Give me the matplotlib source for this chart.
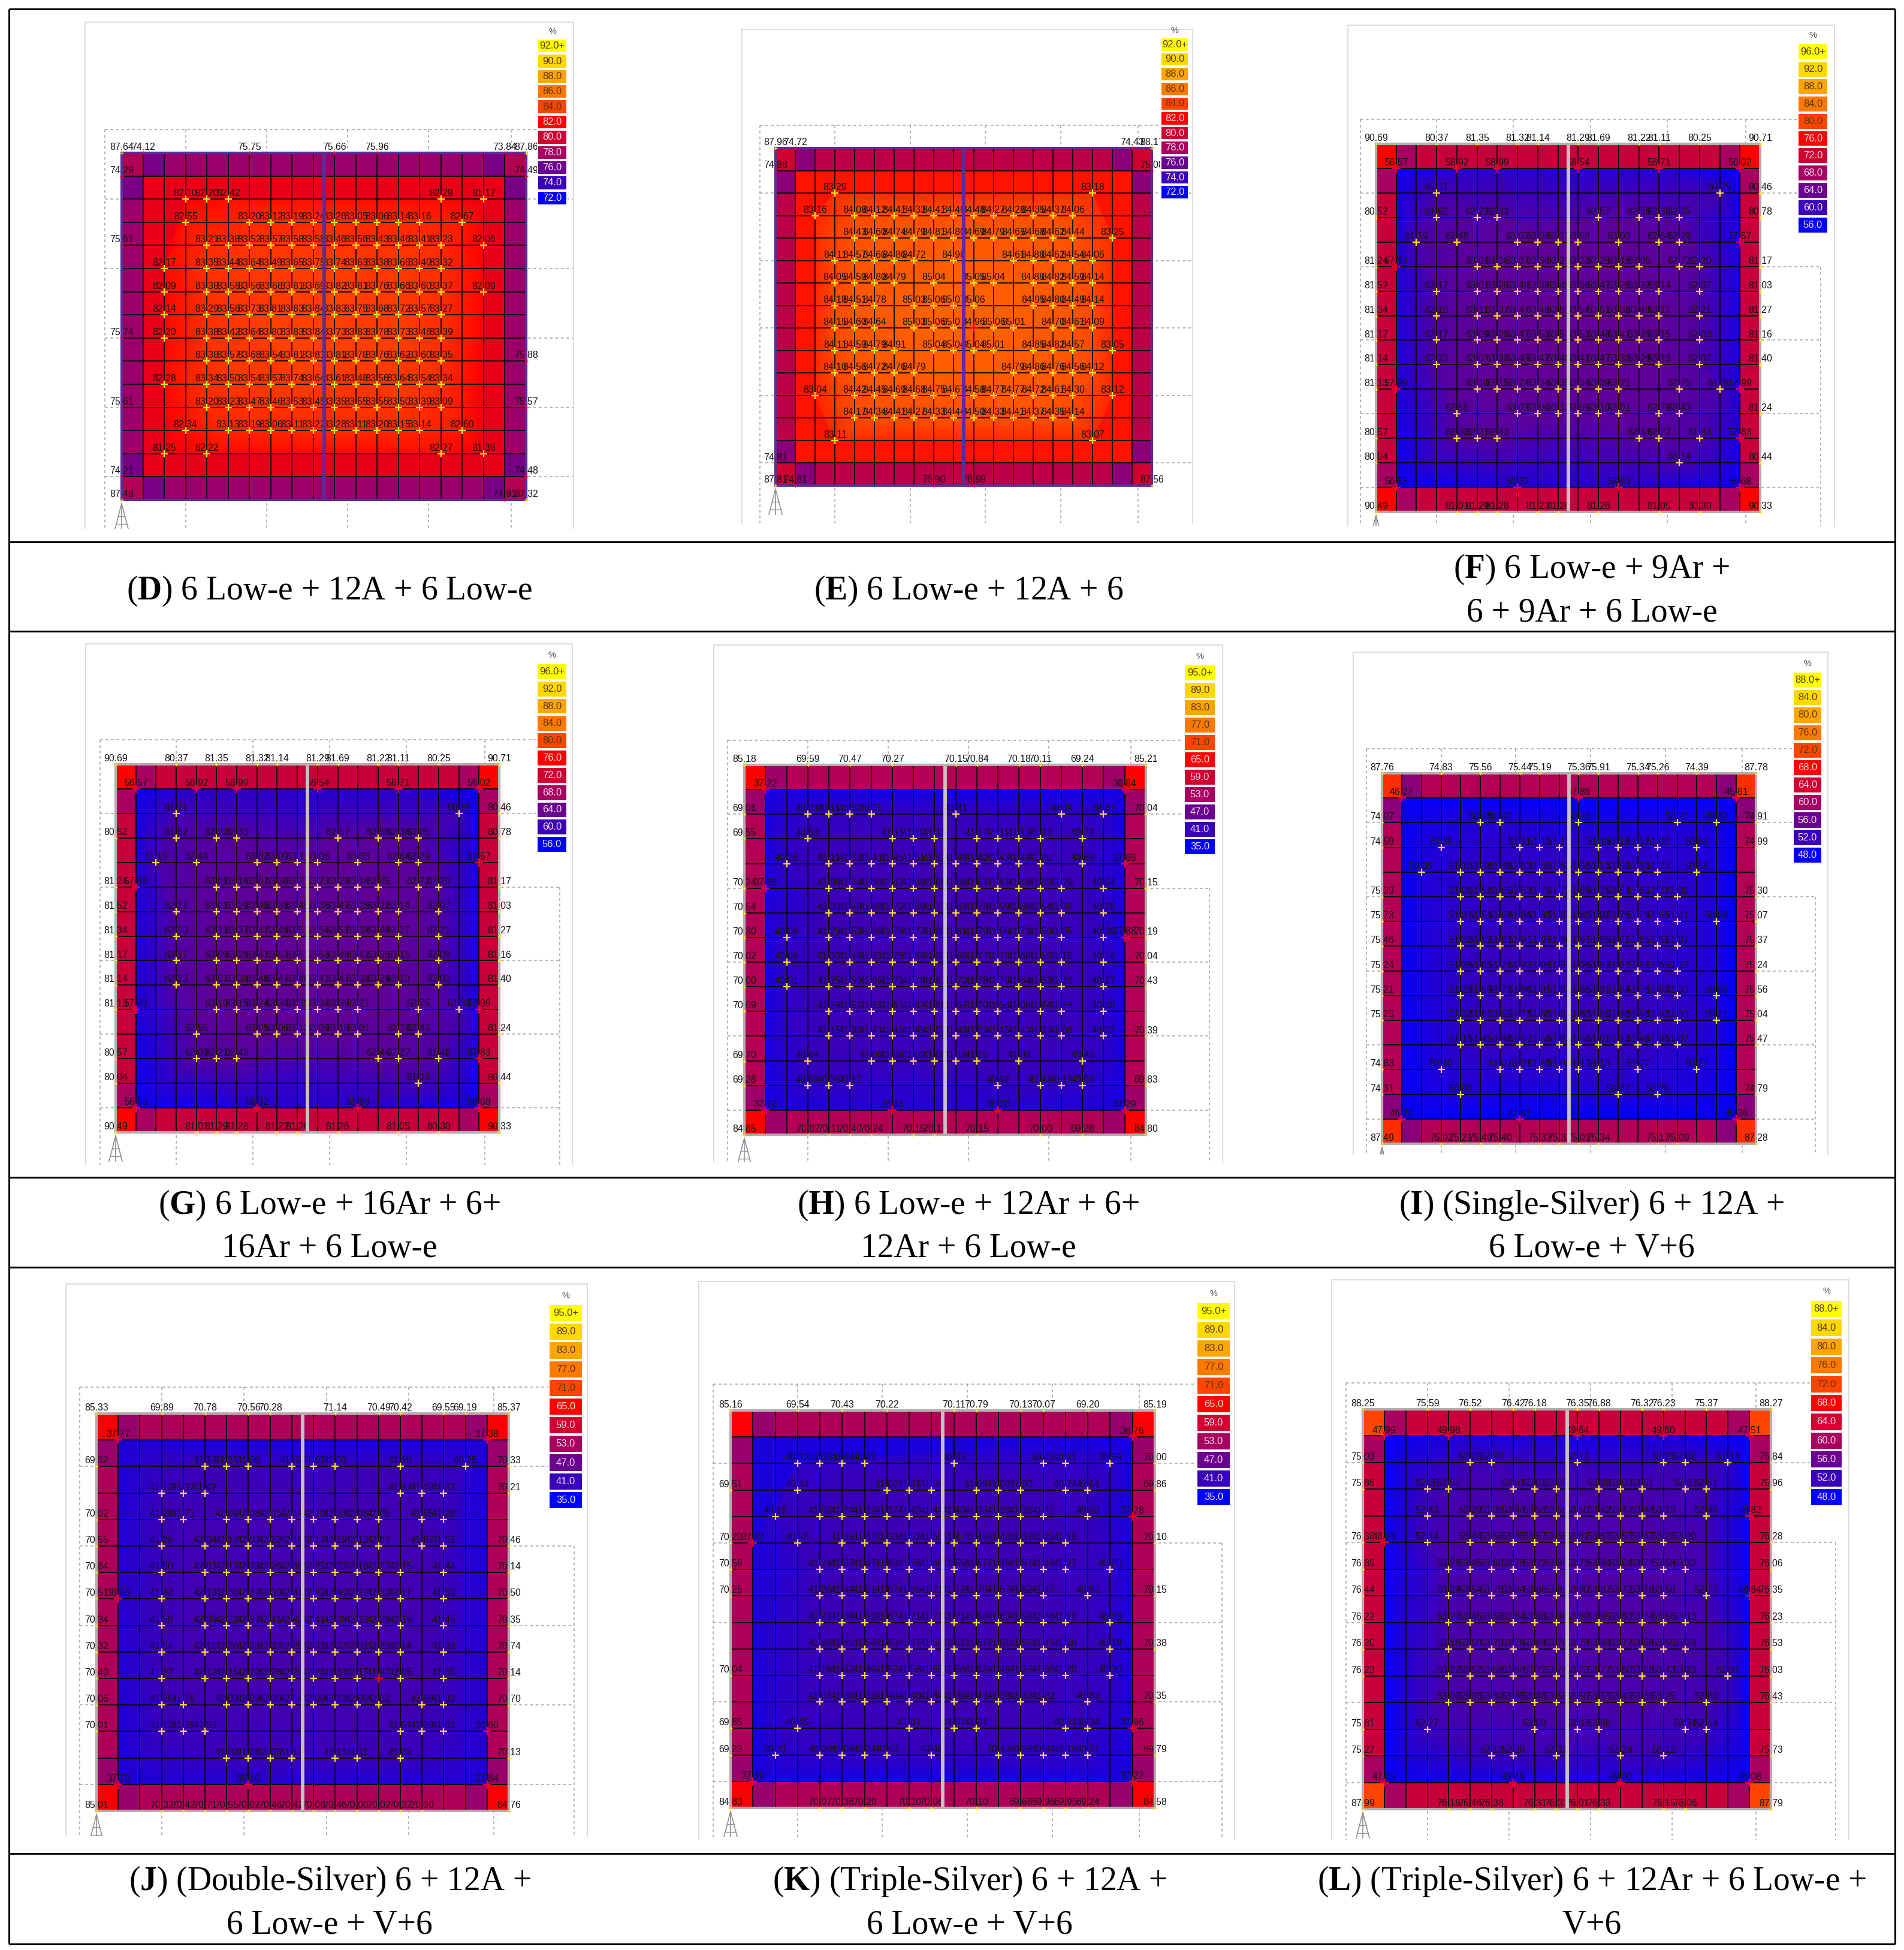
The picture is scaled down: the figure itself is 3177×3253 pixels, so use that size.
import matplotlib
matplotlib.use("Agg")
import matplotlib.pyplot as plt
from matplotlib.colors import LinearSegmentedColormap, Normalize

plt.rcParams['font.family'] = ['Liberation Sans', 'DejaVu Sans']
plt.rcParams['mathtext.fontset'] = 'custom'
plt.rcParams['mathtext.bf'] = 'Liberation Serif:bold'
plt.rcParams['mathtext.rm'] = 'Liberation Serif'

# legend levels of each simulation
SCALE_D = [72, 74, 76, 78, 80, 82, 84, 86, 88, 90, 92]
SCALE_F = [56, 60, 64, 68, 72, 76, 80, 84, 88, 92, 96]
SCALE_H = [35, 41, 47, 53, 59, 65, 71, 77, 83, 89, 95]
SCALE_I = [48, 52, 56, 60, 64, 68, 72, 76, 80, 84, 88]
LEVEL_COLORS = ['#0000ff', '#3a00b8', '#6a0090', '#a80060', '#d00030', '#ff0000',
                '#ff4500', '#ff7800', '#ffa500', '#ffd700', '#ffff00']

# shading of the outer cells: corner, next to corner, edge, first inner ring
D_bands = [78.5, 76.5, 77.6, 81]
E_bands = [80, 77, 79, 82.5]
F_bands = [76, 68, 71, 58.5]
G_bands = [76, 68, 71, 58.5]
H_bands = [65, 52, 54.5, 38]
I_bands = [70.5, 58, 61, 48.5]
J_bands = [64.5, 51.5, 54, 38.5]
K_bands = [64.5, 51.5, 54, 38]
L_bands = [72, 60, 63, 49.5]

# readings per grid row: {row: (columns, values)}
D_labels = {
    0: ([0,1,6,10,12,18,19], [87.64,74.12,75.75,75.66,75.96,73.84,87.86]),
    1: ([0,19], [74.29,74.49]),
    2: ([3,4,5,15,17], [82.10,82.20,82.42,82.29,81.17]),
    3: ([3,6,7,8,9,10,11,12,13,14,16], [82.55,83.20,83.12,83.19,83.24,83.26,83.05,83.06,83.14,83.16,82.67]),
    4: ([0,4,5,6,7,8,9,10,11,12,13,14,15,17], [75.61,83.21,83.38,83.52,83.57,83.58,83.58,83.46,83.56,83.43,83.46,83.41,83.23,82.06]),
    5: ([2,4,5,6,7,8,9,10,11,12,13,14,15], [82.17,83.35,83.44,83.64,83.49,83.65,83.75,83.74,83.63,83.38,83.66,83.40,83.32]),
    6: ([2,4,5,6,7,8,9,10,11,12,13,14,15,17], [82.09,83.38,83.58,83.56,83.68,83.81,83.69,83.82,83.81,83.76,83.66,83.60,83.37,82.09]),
    7: ([2,4,5,6,7,8,9,10,11,12,13,14,15], [82.14,83.29,83.56,83.73,83.81,83.83,83.84,83.83,83.75,83.68,83.72,83.57,83.27]),
    8: ([0,2,4,5,6,7,8,9,10,11,12,13,14,15], [75.74,82.20,83.38,83.42,83.64,83.80,83.83,83.84,83.73,83.83,83.78,83.73,83.48,83.39]),
    9: ([4,5,6,7,8,9,10,11,12,13,14,15,19], [83.38,83.57,83.68,83.54,83.81,83.81,83.81,83.78,83.76,83.62,83.60,83.35,75.88]),
    10: ([2,4,5,6,7,8,9,10,11,12,13,14,15], [82.28,83.34,83.50,83.54,83.57,83.74,83.64,83.61,83.48,83.56,83.64,83.54,83.34]),
    11: ([0,4,5,6,7,8,9,10,11,12,13,14,15,19], [75.61,83.20,83.23,83.47,83.46,83.53,83.45,83.35,83.55,83.55,83.50,83.39,83.09,75.57]),
    12: ([3,5,6,7,8,9,10,11,12,13,14,16], [82.34,83.13,83.19,83.06,83.11,83.22,83.28,83.11,83.20,83.15,83.14,82.60]),
    13: ([2,4,15,17], [81.25,82.22,82.27,81.36]),
    14: ([0,19], [74.21,74.48]),
    15: ([0,18,19], [87.48,74.91,87.32]),
}
E_labels = {
    0: ([0,1,18,19], [87.96,74.72,74.43,88.17]),
    1: ([0,19], [74.88,75.08]),
    2: ([3,16], [83.29,83.18]),
    3: ([2,4,5,6,7,8,9,10,11,12,13,14,15], [83.16,84.08,84.12,84.41,84.33,84.41,84.46,84.48,84.27,84.28,84.35,84.37,84.06]),
    4: ([4,5,6,7,8,9,10,11,12,13,14,15,17], [84.43,84.60,84.74,84.79,84.81,84.80,84.69,84.79,84.65,84.68,84.62,84.44,83.25]),
    5: ([3,4,5,6,7,9,12,13,14,15,16], [84.11,84.57,84.66,84.86,84.72,84.98,84.61,84.88,84.62,84.54,84.06]),
    6: ([3,4,5,6,8,10,11,13,14,15,16], [84.05,84.59,84.80,84.79,85.04,85.05,85.04,84.88,84.82,84.59,84.14]),
    7: ([3,4,5,7,8,9,10,13,14,15,16], [84.18,84.51,84.78,85.03,85.06,85.07,85.06,84.95,84.80,84.49,84.14]),
    8: ([3,4,5,7,8,9,10,11,12,14,15,16], [84.15,84.60,84.64,85.03,85.06,85.07,84.96,85.06,85.01,84.70,84.61,84.09]),
    9: ([3,4,5,6,8,9,10,11,13,14,15,17], [84.11,84.59,84.79,84.91,85.04,85.04,85.04,85.01,84.85,84.82,84.57,83.05]),
    10: ([3,4,5,6,7,12,13,14,15,16], [84.10,84.56,84.72,84.76,84.79,84.79,84.86,84.76,84.56,84.12]),
    11: ([2,4,5,6,7,8,9,10,11,12,13,14,15,17], [83.04,84.42,84.45,84.69,84.68,84.75,84.67,84.58,84.77,84.77,84.72,84.61,84.30,83.12]),
    12: ([4,5,6,7,8,9,10,11,12,13,14,15], [84.17,84.34,84.41,84.27,84.33,84.44,84.50,84.33,84.41,84.37,84.35,84.14]),
    13: ([3,16], [83.11,83.07]),
    14: ([0], [74.81]),
    15: ([0,1,8,10,19], [87.81,74.81,76.90,76.89,87.56]),
}
F_labels = {
    0: ([0,3,5,7,8,10,11,13,14,16,19], [90.69,80.37,81.35,81.32,81.14,81.29,81.69,81.22,81.11,80.25,90.71]),
    1: ([1,4,6,10,14,18], [56.57,58.92,58.99,58.54,58.71,56.02]),
    2: ([3,17,19], [61.11,60.29,80.46]),
    3: ([0,3,5,6,11,13,14,15,19], [80.52,61.62,62.22,62.33,62.57,62.58,62.38,62.05,80.78]),
    4: ([2,4,7,8,9,10,12,14,15,18], [61.19,62.48,63.02,63.09,63.11,63.08,63.03,62.64,62.29,57.57]),
    5: ([0,1,5,6,7,8,9,10,11,12,13,15,16,19], [81.24,57.88,63.01,63.16,63.07,63.30,63.27,63.23,63.25,63.16,63.05,62.72,62.20,81.17]),
    6: ([0,3,5,6,7,8,9,10,11,12,13,14,16,19], [81.52,62.17,63.01,63.20,63.40,63.38,63.45,63.36,63.47,63.26,63.32,63.14,62.07,81.03]),
    7: ([0,3,5,6,7,8,9,10,11,12,13,14,16,19], [81.34,62.10,63.11,63.37,63.47,63.49,63.51,63.54,63.51,63.38,63.40,63.17,62.21,81.27]),
    8: ([0,3,5,6,7,8,9,10,11,12,13,14,16,19], [81.17,62.17,63.09,63.28,63.47,63.53,63.51,63.53,63.48,63.42,63.35,63.15,62.09,81.16]),
    9: ([0,3,5,6,7,8,9,10,11,12,13,14,16,19], [81.14,62.23,63.07,63.38,63.40,63.47,63.48,63.41,63.47,63.38,63.29,63.13,62.02,81.40]),
    10: ([0,1,5,6,7,8,9,10,11,12,15,17,18], [81.13,57.99,63.10,63.15,63.24,63.34,63.35,63.34,63.39,63.21,62.75,61.38,57.99]),
    11: ([4,7,8,9,10,11,12,14,15,19], [62.55,63.05,63.06,63.12,63.09,63.10,63.01,62.78,62.43,81.24]),
    12: ([0,4,5,6,13,14,16,18], [80.57,62.03,62.21,62.43,62.44,62.27,61.48,57.83]),
    13: ([0,15,19], [80.04,61.14,80.44]),
    14: ([1,7,12,18], [56.55,58.32,58.83,56.68]),
    15: ([0,4,5,6,8,9,11,14,16,19], [90.49,81.01,81.29,81.28,81.23,81.26,81.26,81.05,80.30,90.33]),
}
G_labels = F_labels
H_labels = {
    0: ([0,3,5,7,10,11,13,14,16,19], [85.18,69.59,70.47,70.27,70.15,70.84,70.18,70.11,69.24,85.21]),
    1: ([1,18], [37.22,36.84]),
    2: ([0,3,4,5,6,10,15,17,19], [69.01,40.21,40.11,40.52,40.55,40.41,40.09,39.87,70.04]),
    3: ([0,3,7,8,9,11,12,13,14,16], [69.55,40.53,41.11,41.10,41.13,41.17,41.11,41.12,41.03,40.72]),
    4: ([2,4,5,6,7,8,9,10,11,12,13,14,16,18], [40.26,41.11,41.33,41.41,41.45,41.51,41.52,41.49,41.42,41.47,41.48,41.20,40.69,37.86]),
    5: ([0,1,4,5,6,7,8,9,10,11,12,13,14,15,17,19], [70.24,37.85,41.06,41.44,41.56,41.42,41.69,41.68,41.66,41.67,41.61,41.48,41.39,41.26,40.04,70.15]),
    6: ([0,4,5,6,7,8,9,10,11,12,13,14,15,17], [70.54,41.32,41.48,41.68,41.72,41.69,41.77,41.64,41.78,41.59,41.66,41.54,41.35,40.28]),
    7: ([0,2,4,5,6,7,8,9,10,11,12,13,14,15,17,18,19], [70.30,40.08,41.29,41.52,41.69,41.76,41.77,41.80,41.81,41.79,41.66,41.71,41.56,41.05,40.08,37.88,70.19]),
    8: ([0,2,4,5,6,7,8,9,10,11,12,13,14,15,17,19], [70.02,40.06,41.30,41.49,41.61,41.78,41.69,41.80,41.80,41.77,41.72,41.68,41.55,41.18,40.16,70.04]),
    9: ([0,2,4,5,6,7,8,9,10,11,12,13,14,15,17,19], [70.00,40.01,41.25,41.59,41.65,41.71,41.78,41.67,41.70,41.78,41.79,41.64,41.63,41.29,40.27,70.43]),
    10: ([0,4,5,6,7,8,9,10,11,12,13,14,15,17], [70.09,41.29,41.51,41.65,41.61,41.67,41.68,41.67,41.70,41.56,41.08,41.44,41.29,40.09]),
    11: ([4,5,6,7,8,9,10,11,12,13,14,15,17,19], [41.15,41.39,41.41,41.48,41.49,41.52,41.48,41.52,41.45,41.41,41.31,41.08,40.02,70.39]),
    12: ([0,3,6,7,8,9,10,11,13,16], [69.70,40.64,41.08,41.08,41.09,41.05,41.16,41.15,41.08,40.43]),
    13: ([0,3,4,5,12,14,15,16,19], [69.28,40.08,40.29,40.17,40.62,40.43,40.19,40.09,69.83]),
    14: ([1,7,12,18], [37.18,38.33,38.70,37.29]),
    15: ([0,3,4,5,6,8,9,11,14,16,19], [84.85,70.02,70.11,70.40,70.24,70.15,70.11,70.15,70.00,69.28,84.80]),
}
I_labels = {
    0: ([0,3,5,7,8,10,11,13,14,16,19], [87.76,74.83,75.56,75.44,75.19,75.36,75.91,75.34,75.26,74.39,87.78]),
    1: ([1,10,18], [46.27,47.86,45.81]),
    2: ([0,5,6,10,15,17,19], [74.07,50.38,50.42,50.26,50.21,49.82,74.91]),
    3: ([0,3,7,8,9,11,12,13,14,16,19], [74.59,50.39,51.11,51.15,51.13,51.18,51.15,51.12,51.00,50.63,74.99]),
    4: ([2,4,5,6,7,8,9,10,11,12,13,14,16], [50.05,51.10,51.38,51.48,51.53,51.60,51.63,51.58,51.53,51.56,51.53,51.23,50.58]),
    5: ([0,4,5,6,7,8,9,10,11,12,13,14,15,19], [75.39,51.06,51.52,51.66,51.63,51.75,51.72,51.69,51.75,51.63,51.66,51.32,51.30,75.30]),
    6: ([0,4,5,6,7,8,9,10,11,12,13,14,15,17,19], [75.73,51.37,51.54,51.68,51.86,51.80,51.83,51.80,51.92,51.75,51.79,51.65,51.41,50.08,75.07]),
    7: ([0,4,5,6,7,8,9,10,11,12,13,14,15,19], [75.46,51.32,51.62,51.83,51.91,51.92,51.96,51.97,51.95,51.81,51.85,51.62,51.07,75.37]),
    8: ([0,4,5,6,7,8,9,10,11,12,13,14,15,19], [75.24,51.38,51.65,51.74,51.92,51.96,51.97,51.96,51.93,51.87,51.82,51.65,51.22,75.24]),
    9: ([0,4,5,6,7,8,9,10,11,12,13,14,15,17,19], [75.21,51.28,51.59,51.78,51.86,51.91,51.83,51.85,51.91,51.84,51.76,51.63,51.33,50.06,75.56]),
    10: ([0,4,5,6,7,8,9,10,11,12,13,14,15,17,19], [75.25,51.32,51.61,51.65,51.73,51.80,51.82,51.80,51.85,51.68,51.48,51.62,51.33,50.21,75.04]),
    11: ([4,5,6,7,8,9,10,11,12,13,14,15,19], [51.16,51.45,51.48,51.57,51.58,51.63,51.58,51.61,51.53,51.48,51.38,51.07,75.47]),
    12: ([0,3,6,7,8,9,10,11,13,16], [74.83,50.40,51.07,51.07,51.10,51.08,51.17,51.16,51.07,50.27]),
    13: ([0,4,12,14,19], [74.31,50.08,50.37,50.26,74.79]),
    14: ([1,7,18], [46.24,47.87,46.36]),
    15: ([0,3,4,5,6,8,9,10,11,14,15,19], [87.49,75.02,75.21,75.49,75.40,75.33,75.32,75.01,75.34,75.17,75.09,87.28]),
}
J_labels = {
    0: ([0,3,5,7,8,11,13,14,16,17,19], [85.33,69.89,70.78,70.56,70.28,71.14,70.49,70.42,69.55,69.19,85.37]),
    1: ([1,18], [37.77,37.38]),
    2: ([0,5,6,7,9,10,11,14,17,19], [69.32,41.12,41.15,41.06,41.02,41.01,41.03,41.10,40.25,70.33]),
    3: ([3,4,5,14,15,16,19], [41.12,41.37,41.49,41.63,41.42,41.32,70.21]),
    4: ([0,3,4,6,7,8,9,10,11,12,13,15,16], [70.02,41.28,41.71,42.01,42.08,42.11,42.14,42.10,42.03,42.08,42.05,41.55,41.28]),
    5: ([0,3,5,6,7,8,9,10,11,12,13,15,16,19], [70.55,41.26,42.04,42.17,42.03,42.22,42.19,42.17,42.19,42.12,42.07,41.87,41.52,70.46]),
    6: ([0,3,5,6,7,8,9,10,11,12,13,14,16,19], [70.84,41.50,42.07,42.17,42.33,42.26,42.36,42.25,42.37,42.19,42.27,42.15,41.44,70.14]),
    7: ([0,1,3,5,6,7,8,9,10,11,12,13,14,16,19], [70.51,38.96,41.42,42.13,42.30,42.37,42.39,42.41,42.42,42.40,42.27,42.32,42.17,41.53,70.50]),
    8: ([0,3,5,6,7,8,9,10,11,12,13,14,16,19], [70.34,41.50,42.08,42.22,42.37,42.41,42.42,42.41,42.38,42.33,42.29,42.15,41.45,70.35]),
    9: ([0,3,5,6,7,8,9,10,11,12,13,14,16,19], [70.32,41.54,42.11,42.26,42.33,42.37,42.28,42.31,42.37,42.31,42.25,42.14,41.38,70.74]),
    10: ([0,3,5,6,7,8,9,10,11,12,13,14,16,19], [70.40,41.37,42.12,42.15,42.22,42.28,42.29,42.28,42.32,42.17,41.97,42.05,41.35,70.14]),
    11: ([0,3,4,6,7,8,9,10,11,12,13,15,16,19], [70.06,41.25,41.76,42.02,42.09,42.09,42.14,42.09,42.12,42.06,42.02,41.68,41.32,70.70]),
    12: ([0,3,4,5,14,15,16,18], [70.01,41.13,41.39,41.53,41.57,41.29,41.02,38.60]),
    13: ([6,7,8,9,11,12,14,19], [41.02,41.08,41.08,41.17,41.13,41.11,41.02,70.13]),
    14: ([1,7,18], [37.73,38.90,37.84]),
    15: ([0,3,4,5,6,7,8,9,10,11,12,13,14,15,19], [85.01,70.32,70.42,70.71,70.55,70.02,70.46,70.42,70.08,70.46,70.00,70.02,70.32,70.30,84.76]),
}
K_labels = {
    0: ([0,3,5,7,10,11,13,14,16,19], [85.16,69.54,70.43,70.22,70.11,70.79,70.13,70.07,69.20,85.19]),
    1: ([18], [36.76]),
    2: ([3,4,5,6,10,14,15,17,19], [40.12,40.03,40.44,40.47,40.33,40.42,40.31,39.59,70.00]),
    3: ([0,3,7,8,9,11,12,13,15,16,19], [69.51,40.44,41.02,41.01,41.04,41.08,41.02,41.03,40.74,40.64,69.86]),
    4: ([2,4,5,6,7,8,9,10,11,12,13,14,16,18], [40.18,41.02,41.24,41.32,41.37,41.42,41.44,41.40,41.33,41.38,41.38,41.11,40.60,37.78]),
    5: ([0,1,3,5,6,7,8,9,10,11,12,13,14,15,19], [70.20,37.87,40.58,41.35,41.47,41.33,41.52,41.50,41.47,41.49,41.42,41.37,41.22,41.18,70.10]),
    6: ([0,4,5,6,7,8,9,10,11,12,13,14,15,17], [70.59,41.24,41.37,41.47,41.63,41.56,41.68,41.55,41.67,41.49,41.57,41.46,41.27,40.20]),
    7: ([0,4,5,6,7,8,9,10,11,12,13,14,16,19], [70.25,41.20,41.44,41.61,41.67,41.69,41.71,41.72,41.70,41.57,41.62,41.47,40.85,70.15]),
    8: ([4,5,6,7,8,9,10,11,12,13,14,15,17], [41.21,41.38,41.52,41.67,41.71,41.71,41.71,41.68,41.63,41.59,41.46,41.10,40.08]),
    9: ([4,5,6,7,8,9,10,11,12,13,14,15,17,19], [41.16,41.41,41.56,41.63,41.67,41.58,41.61,41.67,41.61,41.55,41.45,41.20,40.19,70.38]),
    10: ([0,4,5,6,7,8,9,10,11,12,13,14,15,17], [70.04,41.19,41.42,41.46,41.52,41.58,41.59,41.58,41.62,41.49,41.27,41.36,41.20,40.30]),
    11: ([4,5,6,7,8,9,10,11,12,13,14,16,19], [41.07,41.30,41.32,41.40,41.40,41.44,41.39,41.43,41.38,41.33,41.22,40.83,70.35]),
    12: ([0,3,8,10,11,15,16,18], [69.85,40.45,41.01,41.07,41.07,40.61,40.34,37.96]),
    13: ([0,2,4,5,6,7,9,12,13,14,15,16,19], [69.23,39.31,40.20,40.09,40.34,40.40,40.48,40.43,40.29,40.34,40.19,40.01,69.79]),
    14: ([1,18], [37.10,37.22]),
    15: ([0,4,5,6,8,9,11,13,14,15,16,19], [84.83,70.07,70.36,70.20,70.10,70.06,70.10,69.68,69.96,69.95,69.24,84.58]),
}
L_labels = {
    0: ([0,3,5,7,8,10,11,13,14,16,19], [88.25,75.59,76.52,76.42,76.18,76.35,76.88,76.32,76.23,75.37,88.27]),
    1: ([1,4,10,14,18], [47.99,49.98,49.64,49.80,47.51]),
    2: ([0,5,6,10,14,15,17,19], [75.03,52.25,52.29,52.13,52.23,52.08,51.14,75.84]),
    3: ([0,3,4,7,8,9,11,12,13,15,16,19], [75.86,52.26,52.57,53.01,53.01,53.03,53.08,53.03,53.01,52.63,52.51,75.96]),
    4: ([3,5,6,7,8,9,10,11,12,13,14,16,18], [52.43,53.29,53.38,53.44,53.51,53.55,53.50,53.42,53.47,53.44,53.13,52.46,48.82]),
    5: ([0,1,3,5,6,7,8,9,10,11,12,13,14,15,19], [76.38,48.93,52.44,53.44,53.56,53.45,53.67,53.65,53.61,53.62,53.55,53.47,53.28,53.20,76.28]),
    6: ([0,4,5,6,7,8,9,10,11,12,13,14,15,19], [76.89,53.28,53.45,53.60,53.78,53.72,53.86,53.72,53.84,53.64,53.71,53.58,53.32,76.06]),
    7: ([0,4,5,6,7,8,9,10,11,12,13,14,16,18,19], [76.44,53.24,53.54,53.76,53.84,53.86,53.89,53.90,53.87,53.72,53.78,53.58,52.77,48.84,76.35]),
    8: ([0,4,5,6,7,8,9,10,11,12,13,14,15,19], [76.22,53.27,53.45,53.66,53.84,53.88,53.90,53.89,53.85,53.80,53.74,53.56,53.13,76.23]),
    9: ([0,4,5,6,7,8,9,10,11,12,13,14,15,19], [76.20,53.18,53.50,53.70,53.78,53.84,53.76,53.78,53.84,53.77,53.68,53.55,53.24,76.53]),
    10: ([0,4,5,6,7,8,9,10,11,12,13,14,15,17,19], [76.23,53.22,53.52,53.56,53.64,53.72,53.74,53.73,53.77,53.60,53.38,53.43,53.23,52.07,76.03]),
    11: ([4,5,6,7,8,9,10,11,12,13,14,16,19], [53.06,53.36,53.39,53.45,53.48,53.55,53.50,53.53,53.45,53.38,53.25,52.60,76.43]),
    12: ([0,3,8,10,11,15,16], [75.81,52.27,53.00,53.07,53.06,52.51,52.14]),
    13: ([0,6,7,9,12,14,19], [75.27,52.13,52.20,52.31,52.24,52.12,75.73]),
    14: ([1,7,12,18], [47.95,49.45,49.90,48.08]),
    15: ([0,4,5,6,8,9,10,11,14,15,19], [87.99,76.18,76.46,76.38,76.31,76.31,76.01,76.33,76.15,76.06,87.79]),
}

# captions: letter, first line, second line
D_caption = ['D', ') 6 Low-e + 12A + 6 Low-e', '']
E_caption = ['E', ') 6 Low-e + 12A + 6', '']
F_caption = ['F', ') 6 Low-e + 9Ar +', '6 + 9Ar + 6 Low-e']
G_caption = ['G', ') 6 Low-e + 16Ar + 6+', '16Ar + 6 Low-e']
H_caption = ['H', ') 6 Low-e + 12Ar + 6+', '12Ar + 6 Low-e']
I_caption = ['I', ') (Single-Silver) 6 + 12A +', '6 Low-e + V+6']
J_caption = ['J', ') (Double-Silver) 6 + 12A +', '6 Low-e + V+6']
K_caption = ['K', ') (Triple-Silver) 6 + 12A +', '6 Low-e + V+6']
L_caption = ['L', ') (Triple-Silver) 6 + 12Ar + 6 Low-e +', 'V+6']

W, H = 3177, 3253
fig = plt.figure(figsize=(W / 100, H / 100), dpi=100, facecolor='white')
cmap = LinearSegmentedColormap.from_list('levels', LEVEL_COLORS)


def px_axes(l, t, r, b, zorder=1):
    return fig.add_axes([l / W, 1 - b / H, (r - l) / W, (b - t) / H], zorder=zorder)


def draw_panel(labels, bands, scale, frame, shot, leg, cross_limit, red_nodes, frame_color):
    left, top, right, bottom = frame
    col = (right - left) / 19
    row = (bottom - top) / 15
    norm = Normalize(scale[0], scale[-1])

    # screenshot background, guides and mast in reference pixels
    bg = px_axes(*shot, zorder=1)
    bg.set_xlim(shot[0], shot[2])
    bg.set_ylim(shot[3], shot[1])
    bg.set_xticks([])
    bg.set_yticks([])
    bg.spines['bottom'].set_visible(False)
    for s in ['left', 'top', 'right']:
        bg.spines[s].set_color('#dedede')
        bg.spines[s].set_linewidth(1.5)
    gx0 = left - 0.78 * col
    gx1 = left + 22.0 * col
    gy0 = top - row
    dash = dict(color='#a0a0a0', lw=1.1, ls=(0, (3, 3)))
    bg.plot([gx0, leg[0]], [gy0, gy0], **dash)
    bg.plot([gx0, gx0], [gy0, shot[3]], **dash)
    bg.plot([gx1, gx1], [top + 5 * row, shot[3]], **dash)
    for i in [3, 6.8, 10.6, 14.4, 18.3]:
        bg.plot([left + i * col] * 2, [gy0, shot[3]], **dash)
    for j in [2, 5, 8, 11, 14]:
        bg.plot([gx0, gx1], [top + j * row] * 2, **dash)
    for dx in [-11, 11]:
        bg.plot([left, left + dx], [bottom + 6, bottom + 48], color='#909090', lw=1.2)
    bg.plot([left, left], [bottom + 6, bottom + 48], color='#909090', lw=1.2)
    for f in [0.5, 0.8]:
        bg.plot([left - 11 * f, left + 11 * f], [bottom + 6 + 42 * f] * 2, color='#909090', lw=1)

    # cell shading
    ax = px_axes(left, top, right, bottom, zorder=2)
    ax.set_xlim(0, 19)
    ax.set_ylim(15, 0)
    ax.set_xticks([])
    ax.set_yticks([])
    for s in ax.spines.values():
        s.set_color(frame_color)
        s.set_linewidth(3)
        s.set_zorder(8)
    corner, near, edge, ring = bands
    cells = [[ring] * 19 for _ in range(15)]
    for j in range(15):
        cells[j][0] = edge
        cells[j][18] = edge
    for i in range(19):
        cells[0][i] = edge
        cells[14][i] = edge
    for i, j in [(1, 0), (17, 0), (1, 14), (17, 14), (0, 1), (18, 1), (0, 13), (18, 13)]:
        cells[j][i] = near
    for i, j in [(0, 0), (18, 0), (0, 14), (18, 14)]:
        cells[j][i] = corner
    ax.pcolormesh(range(20), range(16), cells, cmap=cmap, norm=norm, zorder=1)

    nodes = [(i, j, v) for j, (cols, vals) in labels.items() for i, v in zip(cols, vals)]
    inner = [n for n in nodes if 0 < n[0] < 19 and 0 < n[1] < 15]
    ax.tripcolor([n[0] for n in inner], [n[1] for n in inner], [n[2] for n in inner],
                 shading='gouraud', cmap=cmap, norm=norm, zorder=2)

    # readings sit under the grid lines, crosses on top
    for i, j, v in nodes:
        ax.annotate('%.2f' % v, (i, j), xytext=(0, 6.8), textcoords='offset points',
                    ha='center', va='center', fontsize=11.4, color='#141414',
                    annotation_clip=False, zorder=3)
    ax.hlines(range(1, 15), 0, 19, color='#0a0a0a', lw=1.3, zorder=4)
    ax.vlines(range(1, 19), 0, 15, color='#0a0a0a', lw=1.3, zorder=4)
    mullion = frame_color if frame_color == PURPLE else '#c8c2c2'
    ax.axvline(9.5, color=mullion, lw=4.2, zorder=5)
    for i, j, v in nodes:
        outer = i in (0, 19) or j in (0, 15)
        is_corner = i in (0, 19) and j in (0, 15)
        if outer:
            c = '#ffe020' if is_corner or frame_color != PURPLE else '#e8002a'
            ax.plot(i, j, '+', color=c, ms=4, mew=1, clip_on=False, zorder=9)
        elif v < cross_limit or (i, j) in red_nodes:
            ax.plot(i, j, '+', color='#e8002a', ms=9.5, mew=1.7, zorder=9)
        else:
            ax.plot(i, j, '+', color='#ffe020', ms=8, mew=1.6, zorder=9)

    # level legend
    lax = px_axes(*leg, zorder=3)
    lax.set_ylim(11, 0)
    lax.set_xlim(0, 1)
    lax.axis('off')
    levels = scale[::-1]
    lax.pcolormesh([0, 1], range(12), [[v] for v in levels], cmap=cmap, norm=norm,
                   edgecolors='white', linewidth=1.5)
    for n, v in enumerate(levels):
        txt = '%.1f' % v + ('+' if n == 0 else '')
        lax.text(0.5, n + 0.5, txt, ha='center', va='center', fontsize=12,
                 color='#5a3a10' if n < 5 else '#f6dbe6')
    lax.text(0.5, -0.45, '%', ha='center', va='center', fontsize=10.5, color='#444444',
             clip_on=False)


PURPLE = '#5a2d9a'
GRAY = '#b5acac'
draw_panel(D_labels, D_bands, SCALE_D, (203, 255, 878, 834), (142, 37, 957, 882), (896, 64, 947, 343), 0, [], PURPLE)
draw_panel(E_labels, E_bands, SCALE_D, (1294, 247, 1922, 810), (1238, 49, 1990, 873), (1936, 62, 1984, 333), 0, [(10, 8)], PURPLE)
draw_panel(F_labels, F_bands, SCALE_F, (2296, 240, 2937, 854), (2249, 42, 3061, 878), (2999, 72, 3051, 390), 60, [], GRAY)
draw_panel(G_labels, G_bands, SCALE_F, (193, 1275, 833, 1889), (143, 1074, 955, 1943), (895, 1106, 947, 1423), 60, [], GRAY)
draw_panel(H_labels, H_bands, SCALE_H, (1242, 1276, 1912, 1893), (1191, 1076, 2040, 1939), (1975, 1108, 2029, 1427), 39, [], GRAY)
draw_panel(I_labels, I_bands, SCALE_I, (2306, 1290, 2930, 1908), (2258, 1088, 3050, 1926), (2991, 1120, 3041, 1441), 48, [], GRAY)
draw_panel(J_labels, J_bands, SCALE_H, (161, 2358, 849, 3021), (110, 2142, 980, 3063), (915, 2175, 973, 2518), 39, [(13, 10)], GRAY)
draw_panel(K_labels, K_bands, SCALE_H, (1219, 2353, 1927, 3016), (1166, 2138, 2060, 3069), (1996, 2172, 2054, 2513), 39, [], GRAY)
draw_panel(L_labels, L_bands, SCALE_I, (2274, 2351, 2955, 3018), (2222, 2135, 3085, 3069), (3020, 2168, 3075, 2513), 50, [], GRAY)

# table rules and captions on a page axes in reference pixels
page = px_axes(0, 0, W, H, zorder=5)
page.set_xlim(0, W)
page.set_ylim(H, 0)
page.axis('off')
page.patch.set_alpha(0)
page.vlines([15, 3162], 15, 3243, color='black', lw=2.2)
page.hlines([15, 904, 1053, 1964, 2114, 3092, 3243], 15, 3162, color='black', lw=2.2)


def caption(cap, x, y1, y2):
    letter, first, second = cap
    text = '($\\mathbf{%s}$%s' % (letter, first)
    serif = dict(ha='center', va='center', fontsize=40, family='Liberation Serif', color='black')
    if second:
        page.text(x, y1, text, **serif)
        page.text(x, y2, second, **serif)
    else:
        page.text(x, (y1 + y2) / 2, text, **serif)


caption(D_caption, 550, 950, 1023)
caption(E_caption, 1616, 950, 1023)
caption(F_caption, 2656, 950, 1023)
caption(G_caption, 550, 2011, 2083)
caption(H_caption, 1616, 2011, 2083)
caption(I_caption, 2656, 2011, 2083)
caption(J_caption, 550, 3139, 3212)
caption(K_caption, 1618, 3139, 3212)
caption(L_caption, 2656, 3139, 3212)

fig.savefig('out.png', dpi=100, facecolor='white')
